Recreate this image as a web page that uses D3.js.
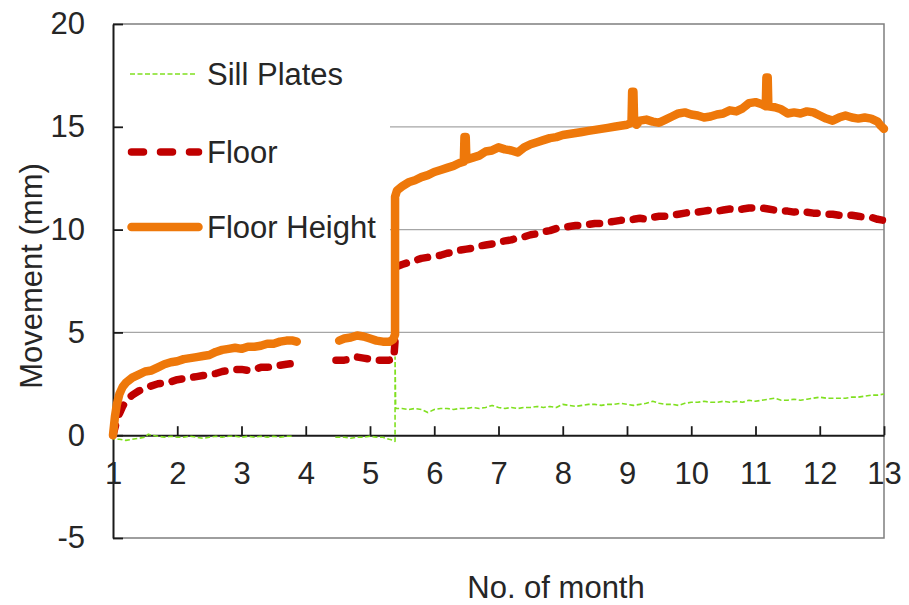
<!DOCTYPE html>
<html>
<head>
<meta charset="utf-8">
<script src="https://cdn.jsdelivr.net/npm/d3@7/dist/d3.min.js"></script>
<style>
  html, body { margin: 0; padding: 0; background: #fff; }
  svg { display: block; }
  text { font-family: "Liberation Sans", Arial, sans-serif; fill: #262626; }
</style>
</head>
<body>
<svg id="chart" width="909" height="605"></svg>
<script>
// Monthly movement readings: [month, movement in mm]; null marks a gap in logging.
const sillPlates = [
  [1.00, 0.00], [1.02, -0.20], [1.10, -0.20], [1.20, -0.25], [1.30, -0.20], [1.40, -0.15],
  [1.50, -0.10], [1.55, 0.05], [1.60, 0.00], [1.70, -0.05], [1.80, -0.10], [1.90, -0.05],
  [2.00, -0.10], [2.10, -0.10], [2.20, -0.05], [2.30, -0.10], [2.40, -0.15], [2.50, -0.10],
  [2.60, -0.05], [2.70, -0.10], [2.80, -0.05], [2.90, -0.05], [3.00, -0.10], [3.10, -0.05],
  [3.20, -0.10], [3.30, -0.05], [3.40, -0.10], [3.50, -0.05], [3.60, -0.10], [3.70, -0.05],
  [3.80, -0.05],
  [4.10, null],
  [4.46, -0.10], [4.60, -0.10], [4.70, -0.15], [4.80, -0.10], [4.90, -0.10], [5.00, -0.05],
  [5.10, -0.10], [5.20, -0.10], [5.30, -0.20], [5.37, -0.25], [5.39, -0.30], [5.39, 3.80],
  [5.40, 1.30], [5.50, 1.30], [5.60, 1.25], [5.70, 1.30], [5.80, 1.25], [5.90, 1.10],
  [6.00, 1.25], [6.10, 1.30], [6.20, 1.30], [6.30, 1.25], [6.40, 1.30], [6.50, 1.30],
  [6.60, 1.35], [6.70, 1.30], [6.80, 1.35], [6.90, 1.45], [7.00, 1.35], [7.10, 1.30],
  [7.20, 1.35], [7.30, 1.30], [7.40, 1.35], [7.50, 1.35], [7.60, 1.40], [7.70, 1.35],
  [7.80, 1.40], [7.90, 1.35], [8.00, 1.50], [8.10, 1.45], [8.20, 1.40], [8.30, 1.45],
  [8.40, 1.50], [8.50, 1.50], [8.60, 1.45], [8.70, 1.50], [8.80, 1.50], [8.90, 1.55],
  [9.00, 1.50], [9.10, 1.45], [9.20, 1.50], [9.30, 1.55], [9.40, 1.65], [9.50, 1.55],
  [9.60, 1.50], [9.70, 1.50], [9.80, 1.45], [9.90, 1.55], [10.00, 1.60], [10.10, 1.60],
  [10.20, 1.65], [10.30, 1.60], [10.40, 1.60], [10.50, 1.65], [10.60, 1.60], [10.70, 1.65],
  [10.80, 1.60], [10.90, 1.70], [11.00, 1.65], [11.10, 1.70], [11.20, 1.75], [11.30, 1.80],
  [11.40, 1.70], [11.50, 1.70], [11.60, 1.75], [11.70, 1.70], [11.80, 1.75], [11.90, 1.80],
  [12.00, 1.85], [12.10, 1.80], [12.20, 1.80], [12.30, 1.80], [12.40, 1.80], [12.50, 1.85],
  [12.60, 1.85], [12.70, 1.90], [12.80, 1.95], [12.90, 1.95], [13.00, 2.00]
];

const floor = [
  [1.00, 0.00], [1.05, 0.60], [1.10, 1.05], [1.15, 1.40], [1.20, 1.65], [1.30, 1.95],
  [1.40, 2.15], [1.50, 2.30], [1.60, 2.40], [1.70, 2.50], [1.80, 2.55], [1.90, 2.60],
  [2.00, 2.70], [2.10, 2.75], [2.20, 2.80], [2.30, 2.85], [2.40, 2.90], [2.50, 2.95],
  [2.60, 3.00], [2.70, 3.10], [2.80, 3.15], [2.90, 3.20], [3.00, 3.20], [3.10, 3.15],
  [3.20, 3.20], [3.30, 3.30], [3.40, 3.30], [3.50, 3.35], [3.60, 3.40], [3.70, 3.45],
  [3.83, 3.50],
  [4.10, null],
  [4.47, 3.65], [4.60, 3.65], [4.70, 3.70], [4.80, 3.80], [4.90, 3.75], [5.00, 3.70],
  [5.10, 3.65], [5.20, 3.65], [5.30, 3.65], [5.37, 3.70], [5.39, 4.60],
  [5.40, null],
  [5.42, 8.20], [5.50, 8.30], [5.60, 8.40], [5.70, 8.50], [5.80, 8.60], [5.90, 8.65],
  [6.00, 8.70], [6.10, 8.75], [6.20, 8.85], [6.30, 8.90], [6.40, 9.00], [6.50, 9.05],
  [6.60, 9.10], [6.70, 9.20], [6.80, 9.25], [6.90, 9.30], [7.00, 9.40], [7.10, 9.45],
  [7.20, 9.50], [7.30, 9.60], [7.40, 9.65], [7.50, 9.75], [7.60, 9.80], [7.70, 9.90],
  [7.80, 9.95], [7.90, 10.05], [8.00, 10.10], [8.10, 10.15], [8.20, 10.20], [8.30, 10.20],
  [8.40, 10.25], [8.50, 10.30], [8.60, 10.30], [8.70, 10.35], [8.80, 10.40], [8.90, 10.45],
  [9.00, 10.45], [9.10, 10.50], [9.20, 10.55], [9.30, 10.50], [9.40, 10.60], [9.50, 10.65],
  [9.60, 10.65], [9.70, 10.70], [9.80, 10.75], [9.90, 10.80], [10.00, 10.85], [10.10, 10.85],
  [10.20, 10.90], [10.30, 10.95], [10.40, 10.90], [10.50, 10.95], [10.60, 11.00], [10.70, 10.95],
  [10.80, 11.00], [10.90, 11.05], [11.00, 11.05], [11.10, 11.05], [11.20, 11.00], [11.30, 10.95],
  [11.40, 10.90], [11.50, 10.90], [11.60, 10.85], [11.70, 10.90], [11.80, 10.85], [11.90, 10.80],
  [12.00, 10.80], [12.10, 10.75], [12.20, 10.75], [12.30, 10.70], [12.40, 10.70], [12.50, 10.70],
  [12.60, 10.65], [12.70, 10.60], [12.80, 10.60], [12.90, 10.50], [13.00, 10.45]
];

const floorHeight = [
  [1.00, 0.00], [1.03, 0.90], [1.06, 1.50], [1.10, 2.00], [1.15, 2.35], [1.20, 2.55],
  [1.30, 2.80], [1.40, 2.95], [1.50, 3.10], [1.60, 3.15], [1.70, 3.30], [1.80, 3.45],
  [1.90, 3.55], [2.00, 3.60], [2.10, 3.70], [2.20, 3.75], [2.30, 3.80], [2.40, 3.85],
  [2.50, 3.90], [2.60, 4.05], [2.70, 4.15], [2.80, 4.20], [2.90, 4.25], [3.00, 4.20],
  [3.10, 4.30], [3.20, 4.30], [3.30, 4.35], [3.40, 4.45], [3.50, 4.45], [3.60, 4.55],
  [3.70, 4.60], [3.80, 4.60], [3.86, 4.55],
  [4.10, null],
  [4.52, 4.60], [4.60, 4.70], [4.70, 4.75], [4.80, 4.85], [4.90, 4.80], [5.00, 4.70],
  [5.10, 4.60], [5.20, 4.55], [5.30, 4.55], [5.36, 4.65], [5.39, 4.90], [5.39, 11.60],
  [5.42, 11.90], [5.50, 12.10], [5.60, 12.30], [5.70, 12.40], [5.80, 12.55], [5.90, 12.65],
  [6.00, 12.80], [6.10, 12.90], [6.20, 13.00], [6.30, 13.10], [6.40, 13.25], [6.46, 13.30],
  [6.47, 14.50], [6.49, 14.50], [6.50, 13.40], [6.60, 13.50], [6.70, 13.60], [6.80, 13.80],
  [6.90, 13.85], [7.00, 14.00], [7.10, 13.90], [7.20, 13.85], [7.30, 13.75], [7.40, 14.00],
  [7.50, 14.15], [7.60, 14.25], [7.70, 14.35], [7.80, 14.45], [7.90, 14.50], [8.00, 14.60],
  [8.10, 14.65], [8.20, 14.70], [8.30, 14.75], [8.40, 14.80], [8.50, 14.85], [8.60, 14.90],
  [8.70, 14.95], [8.80, 15.00], [8.90, 15.05], [9.00, 15.10], [9.07, 15.20], [9.08, 16.70],
  [9.10, 16.70], [9.11, 15.40], [9.15, 15.10], [9.20, 15.30], [9.30, 15.35], [9.40, 15.25],
  [9.50, 15.20], [9.60, 15.35], [9.70, 15.50], [9.80, 15.65], [9.90, 15.70], [10.00, 15.60],
  [10.10, 15.55], [10.20, 15.45], [10.30, 15.50], [10.40, 15.60], [10.50, 15.65], [10.60, 15.80],
  [10.70, 15.75], [10.80, 15.90], [10.90, 16.15], [11.00, 16.20], [11.10, 16.10], [11.16, 16.00],
  [11.17, 17.40], [11.19, 17.40], [11.20, 16.00], [11.30, 15.95], [11.40, 15.85], [11.50, 15.65],
  [11.60, 15.70], [11.70, 15.65], [11.80, 15.75], [11.90, 15.70], [12.00, 15.55], [12.10, 15.40],
  [12.20, 15.30], [12.30, 15.45], [12.40, 15.55], [12.50, 15.45], [12.60, 15.40], [12.70, 15.45],
  [12.80, 15.40], [12.90, 15.25], [12.95, 15.05], [13.00, 14.90]
];

const monthTicks = [1, 2, 3, 4, 5, 6, 7, 8, 9, 10, 11, 12, 13];
const movementTicks = [-5, 0, 5, 10, 15, 20];
const gridValues = [5, 10, 15];

const legendItems = [
  { label: "Sill Plates", key: "sill" },
  { label: "Floor", key: "floor" },
  { label: "Floor Height", key: "height" }
];

// Layout and styling
const plot = { left: 113, right: 884, top: 24, bottom: 538 };
const styles = {
  sill:   { color: "#80E020", width: 1.6, dash: "5,2.5", cap: "butt", legendDash: "5,2.5" },
  floor:  { color: "#C00000", width: 7.5, dash: "10,12", cap: "round", legendDash: "12,17" },
  height: { color: "#EE780A", width: 8.5, dash: null,    cap: "round", legendDash: null }
};
const fontSize = 31;
const fontFamily = "'Liberation Sans', Arial, sans-serif";

const svg = d3.select("#chart");

const x = d3.scaleLinear().domain([1, 13]).range([plot.left, plot.right]);
const y = d3.scaleLinear().domain([-5, 20]).range([plot.bottom, plot.top]);

// Horizontal gridlines
svg.append("g").selectAll("line").data(gridValues).join("line")
  .attr("x1", plot.left).attr("x2", plot.right)
  .attr("y1", d => y(d)).attr("y2", d => y(d))
  .attr("stroke", "#A6A6A6").attr("stroke-width", 1.2);

// Legend background hides the gridlines behind it
svg.append("rect")
  .attr("x", plot.left + 1).attr("y", plot.top + 10)
  .attr("width", 276).attr("height", 222)
  .attr("fill", "#fff");

// Plot frame: top, right, bottom in gray
svg.append("path")
  .attr("d", `M${plot.left},${plot.top}H${plot.right}V${plot.bottom}H${plot.left}`)
  .attr("fill", "none").attr("stroke", "#7F7F7F").attr("stroke-width", 1.5);

// Y axis (ticks point inward)
const yAxis = d3.axisLeft(y).tickValues(movementTicks).tickFormat(d => String(d))
  .tickSizeInner(-10).tickSizeOuter(0).tickPadding(28);
const gy = svg.append("g").attr("transform", `translate(${plot.left},0)`).call(yAxis);
gy.select(".domain").attr("stroke", "#1A1A1A").attr("stroke-width", 2);
gy.selectAll(".tick line").attr("stroke", "#1A1A1A").attr("stroke-width", 1.8);
gy.selectAll(".tick text").attr("font-size", fontSize).attr("fill", "#262626")
  .style("font-family", fontFamily);

// X axis drawn along zero, ticks point up
const xAxis = d3.axisBottom(x).tickValues(monthTicks).tickFormat(d => String(d))
  .tickSizeInner(-9).tickSizeOuter(0).tickPadding(27);
const gx = svg.append("g").attr("transform", `translate(0,${y(0)})`).call(xAxis);
gx.select(".domain").attr("stroke", "#1A1A1A").attr("stroke-width", 2);
gx.selectAll(".tick line").attr("stroke", "#1A1A1A").attr("stroke-width", 1.8);
gx.selectAll(".tick text").attr("font-size", fontSize).attr("fill", "#262626")
  .style("font-family", fontFamily);

// Data series
const line = d3.line()
  .defined(d => d[1] !== null)
  .x(d => x(d[0]))
  .y(d => y(d[1]));

const series = [
  { key: "sill", data: sillPlates },
  { key: "floor", data: floor },
  { key: "height", data: floorHeight }
];

svg.append("g").selectAll("path").data(series).join("path")
  .attr("d", d => line(d.data))
  .attr("fill", "none")
  .attr("stroke", d => styles[d.key].color)
  .attr("stroke-width", d => styles[d.key].width)
  .attr("stroke-linecap", d => styles[d.key].cap)
  .attr("stroke-linejoin", "round")
  .attr("stroke-dasharray", d => styles[d.key].dash);

// Legend
const legendRows = [74, 152, 227];
const legend = svg.append("g");
legendItems.forEach((item, i) => {
  const s = styles[item.key];
  const yy = legendRows[i];
  const x1 = item.key === "sill" ? 130 : 131.5;
  const x2 = item.key === "sill" ? 195 : 198.5;
  legend.append("line")
    .attr("x1", x1).attr("x2", x2).attr("y1", yy).attr("y2", yy)
    .attr("stroke", s.color).attr("stroke-width", s.width)
    .attr("stroke-linecap", s.cap)
    .attr("stroke-dasharray", s.legendDash);
  legend.append("text")
    .attr("x", 207).attr("y", yy + 11)
    .attr("font-size", fontSize)
    .text(item.label);
});

// Axis titles
svg.append("text")
  .attr("transform", "translate(42,276) rotate(-90)")
  .attr("text-anchor", "middle")
  .attr("font-size", fontSize)
  .text("Movement (mm)");

svg.append("text")
  .attr("x", 556).attr("y", 598)
  .attr("text-anchor", "middle")
  .attr("font-size", fontSize)
  .text("No. of month");
</script>
</body>
</html>
